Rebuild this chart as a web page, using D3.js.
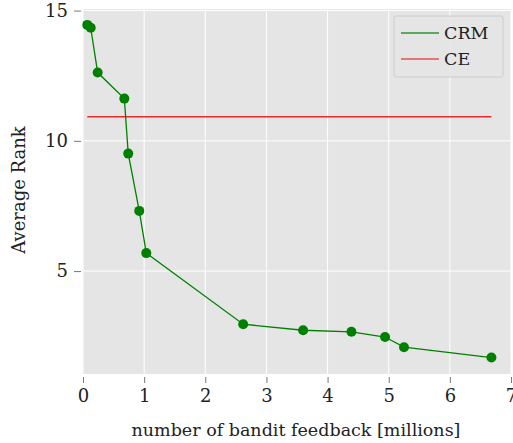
<!doctype html>
<html>
<head>
<script src="https://d3js.org/d3.v7.min.js"></script>
<style>
  body { margin: 0; background: white; }
  svg text { font-family: "DejaVu Serif", serif; fill: #222; }
</style>
</head>
<body>
<svg id="chart" width="513" height="443"></svg>
<script>
// values
var feedback = [0.07, 0.126, 0.24, 0.676, 0.74, 0.92, 1.035, 2.62, 3.60, 4.39, 4.94, 5.25, 6.68]
var crmRank = [14.45, 14.34, 12.62, 11.62, 9.51, 7.31, 5.69, 2.96, 2.73, 2.67, 2.47, 2.08, 1.68]
var ceRank = 10.92
var xTicks = [0, 1, 2, 3, 4, 5, 6, 7]
var yTicks = [5, 10, 15]

var svg = d3.select("#chart")
var pLeft = 83, pRight = 511, pTop = 9, pBottom = 374

var x = d3.scaleLinear().domain([0, 7]).range([pLeft, pRight])
var y = d3.scaleLinear().domain([1.05, 15.06]).range([pBottom, pTop])

svg.append("rect").attr("x", pLeft).attr("y", pTop)
    .attr("width", pRight - pLeft).attr("height", pBottom - pTop).attr("fill", "#e5e5e5")

// grid
svg.append("g").selectAll("line").data(xTicks).enter().append("line")
    .attr("x1", d => x(d)).attr("x2", d => x(d)).attr("y1", pTop).attr("y2", pBottom)
    .attr("stroke", "white").attr("stroke-width", 1)
svg.append("g").selectAll("line").data(yTicks).enter().append("line")
    .attr("x1", pLeft).attr("x2", pRight).attr("y1", d => y(d)).attr("y2", d => y(d))
    .attr("stroke", "white").attr("stroke-width", 1)

// axes
var xAxis = svg.append("g").attr("transform", "translate(0," + (pBottom + 3) + ")")
    .call(d3.axisBottom(x).tickValues(xTicks).tickSize(6).tickPadding(6).tickFormat(d3.format("d")))
var yAxis = svg.append("g").attr("transform", "translate(" + (pLeft - 2) + ",0)")
    .call(d3.axisLeft(y).tickValues(yTicks).tickSize(7).tickPadding(6).tickFormat(d3.format("d")))
;[xAxis, yAxis].forEach(function(a) {
    a.attr("font-family", null)
    a.select(".domain").remove()
    a.selectAll("line").attr("stroke", "#777")
    a.selectAll("text").attr("font-size", 18).attr("fill", "#222")
})

// CE line
svg.append("line")
    .attr("x1", x(feedback[0])).attr("x2", x(feedback[feedback.length - 1]))
    .attr("y1", y(ceRank)).attr("y2", y(ceRank))
    .attr("stroke", "#e42a2a").attr("stroke-width", 1.5)

// CRM line
var pts = feedback.map((d, i) => [d, crmRank[i]])
svg.append("path").datum(pts)
    .attr("d", d3.line().x(d => x(d[0])).y(d => y(d[1])))
    .attr("fill", "none").attr("stroke", "green").attr("stroke-width", 1.3)
svg.append("g").selectAll("circle").data(pts).enter().append("circle")
    .attr("cx", d => x(d[0])).attr("cy", d => y(d[1])).attr("r", 5)
    .attr("fill", "green")

// labels
svg.append("text").attr("x", 296).attr("y", 436)
    .attr("text-anchor", "middle").attr("font-size", 17.5)
    .text("number of bandit feedback [millions]")
svg.append("text").attr("transform", "translate(25,190) rotate(-90)")
    .attr("text-anchor", "middle").attr("font-size", 18)
    .text("Average Rank")

// legend
var lg = svg.append("g")
lg.append("rect").attr("x", 394).attr("y", 16).attr("width", 109).attr("height", 61)
    .attr("rx", 2).attr("fill", "#e5e5e5").attr("fill-opacity", 0.8)
    .attr("stroke", "#cccccc").attr("stroke-width", 1)
var legendItems = [["CRM", "green"], ["CE", "#e42a2a"]]
legendItems.forEach(function(item, i) {
    var ly = 33 + i * 26
    lg.append("line").attr("x1", 401).attr("x2", 439).attr("y1", ly).attr("y2", ly)
        .attr("stroke", item[1]).attr("stroke-width", 1.3).attr("opacity", 0.8)
    lg.append("text").attr("x", 444).attr("y", ly + 6).attr("font-size", 17.5)
        .text(item[0])
})
</script>
</body>
</html>
